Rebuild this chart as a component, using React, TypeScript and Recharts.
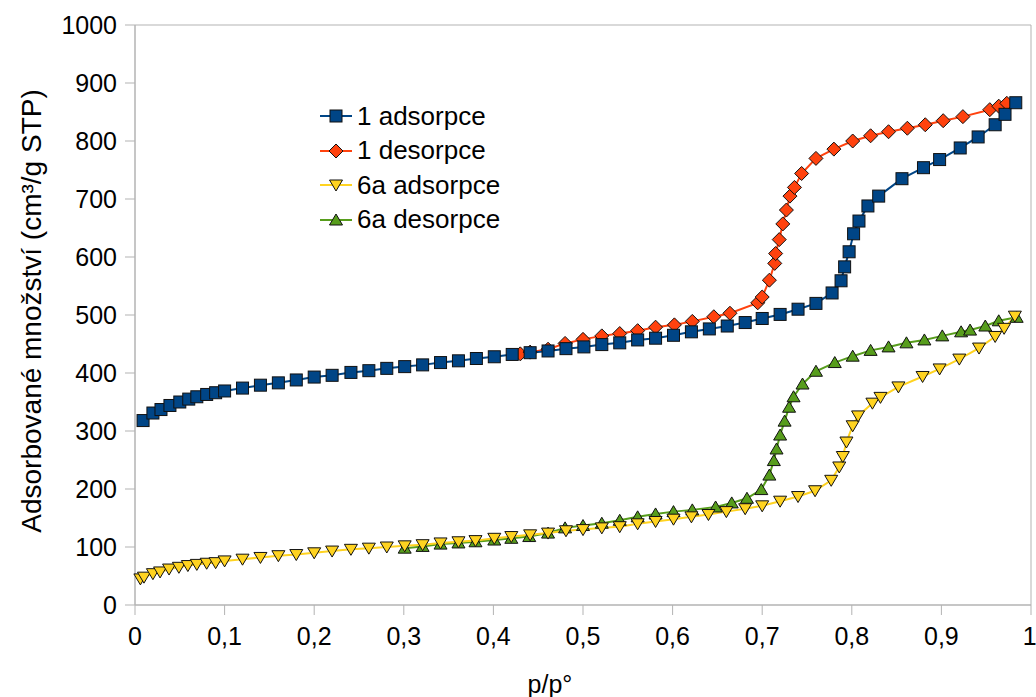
import React from "react";
import { LineChart, Line, XAxis, YAxis, ReferenceArea, Legend } from "recharts";

// Isotherm readings (p/p° and adsorbed amount, cm³/g STP)
const ads1X = [0.009, 0.02, 0.029, 0.039, 0.05, 0.06, 0.069, 0.08, 0.09, 0.1, 0.12, 0.14, 0.16, 0.18, 0.2, 0.22, 0.241, 0.261, 0.281, 0.301, 0.321, 0.341, 0.361, 0.381, 0.401, 0.421, 0.441, 0.461, 0.481, 0.501, 0.521, 0.541, 0.561, 0.581, 0.601, 0.621, 0.641, 0.661, 0.681, 0.7, 0.72, 0.74, 0.76, 0.778, 0.788, 0.792, 0.797, 0.802, 0.808, 0.818, 0.83, 0.856, 0.88, 0.898, 0.921, 0.941, 0.96, 0.971, 0.983];
const ads1Y = [318, 331, 337, 344, 350, 355, 359, 363, 366, 369, 374, 379, 383, 388, 393, 396, 401, 404, 408, 411, 414, 418, 421, 425, 428, 432, 435, 438, 442, 445, 449, 452, 457, 460, 465, 471, 476, 481, 487, 494, 501, 510, 520, 538, 559, 583, 609, 640, 662, 688, 705, 735, 754, 768, 788, 807, 828, 846, 866];

const des1X = [0.43, 0.441, 0.461, 0.48, 0.5, 0.521, 0.541, 0.561, 0.581, 0.602, 0.622, 0.646, 0.664, 0.695, 0.7, 0.708, 0.714, 0.715, 0.719, 0.723, 0.727, 0.731, 0.736, 0.744, 0.76, 0.78, 0.801, 0.821, 0.841, 0.862, 0.882, 0.902, 0.924, 0.954, 0.964, 0.973];
const des1Y = [433, 436, 441, 451, 458, 464, 468, 473, 479, 483, 489, 497, 503, 521, 531, 560, 589, 606, 630, 657, 681, 705, 720, 744, 770, 786, 800, 809, 816, 822, 828, 835, 842, 854, 860, 865];

const ads6X = [0.006, 0.01, 0.02, 0.028, 0.038, 0.049, 0.059, 0.069, 0.08, 0.09, 0.1, 0.12, 0.14, 0.16, 0.18, 0.2, 0.22, 0.241, 0.261, 0.281, 0.301, 0.321, 0.341, 0.361, 0.38, 0.401, 0.42, 0.441, 0.461, 0.481, 0.5, 0.521, 0.541, 0.561, 0.581, 0.601, 0.621, 0.64, 0.66, 0.681, 0.7, 0.72, 0.74, 0.759, 0.777, 0.786, 0.79, 0.794, 0.801, 0.807, 0.823, 0.832, 0.852, 0.879, 0.898, 0.92, 0.942, 0.96, 0.97, 0.982];
const ads6Y = [45, 48, 54, 57, 62, 65, 68, 70, 72, 73, 76, 79, 82, 85, 87, 90, 93, 96, 98, 100, 102, 104, 107, 109, 111, 115, 118, 121, 124, 128, 130, 133, 135, 140, 144, 148, 152, 156, 161, 166, 171, 179, 187, 197, 215, 238, 256, 281, 309, 326, 348, 358, 376, 394, 407, 424, 443, 463, 477, 498];

const des6X = [0.301, 0.321, 0.341, 0.361, 0.38, 0.401, 0.42, 0.44, 0.461, 0.48, 0.5, 0.521, 0.541, 0.561, 0.581, 0.601, 0.622, 0.648, 0.666, 0.683, 0.699, 0.708, 0.713, 0.716, 0.72, 0.725, 0.73, 0.735, 0.745, 0.76, 0.781, 0.801, 0.821, 0.841, 0.861, 0.881, 0.901, 0.922, 0.932, 0.949, 0.964, 0.984];
const des6Y = [98, 101, 105, 107, 109, 112, 115, 118, 124, 133, 137, 141, 146, 152, 157, 161, 164, 169, 176, 184, 199, 224, 249, 269, 293, 317, 341, 359, 381, 403, 418, 429, 439, 445, 452, 457, 464, 471, 474, 481, 490, 496];

const xTicks = [0, 0.1, 0.2, 0.3, 0.4, 0.5, 0.6, 0.7, 0.8, 0.9, 1];
const yTicks = [0, 100, 200, 300, 400, 500, 600, 700, 800, 900, 1000];

const FONT = "'Liberation Sans', Arial, sans-serif";
const AXIS = "#b3b3b3";

type Kind = "square" | "diamond" | "down" | "up";

const SERIES: { name: string; kind: Kind; color: string; xs: number[]; ys: number[] }[] = [
  { name: "1 adsorpce", kind: "square", color: "#004586", xs: ads1X, ys: ads1Y },
  { name: "1 desorpce", kind: "diamond", color: "#ff420e", xs: des1X, ys: des1Y },
  { name: "6a adsorpce", kind: "down", color: "#ffd320", xs: ads6X, ys: ads6Y },
  { name: "6a desorpce", kind: "up", color: "#579d1c", xs: des6X, ys: des6Y },
];

// drawing order: desorption under adsorption
const DRAW_ORDER = [1, 0, 3, 2];

const toPoints = (xs: number[], ys: number[]) => xs.map((x, i) => ({ x, y: ys[i] }));

function Marker({ kind, cx, cy, fill }: { kind: Kind; cx: number; cy: number; fill: string }) {
  const st = { fill, stroke: "#111", strokeWidth: 1 };
  if (kind === "square") return <rect x={cx - 6} y={cy - 6} width={12} height={12} {...st} />;
  if (kind === "diamond")
    return <polygon points={`${cx},${cy - 7} ${cx + 7},${cy} ${cx},${cy + 7} ${cx - 7},${cy}`} {...st} />;
  if (kind === "down")
    return <polygon points={`${cx - 6.5},${cy - 5} ${cx + 6.5},${cy - 5} ${cx},${cy + 6}`} {...st} />;
  return <polygon points={`${cx - 6.5},${cy + 5} ${cx + 6.5},${cy + 5} ${cx},${cy - 6}`} {...st} />;
}

function LegendBox() {
  return (
    <div style={{ fontFamily: FONT, fontSize: 26, color: "#000" }}>
      {SERIES.map((s) => (
        <div key={s.name} style={{ display: "flex", alignItems: "center", height: 34.5 }}>
          <svg width={32} height={20} style={{ marginRight: 5 }}>
            <line x1={0} y1={10} x2={32} y2={10} stroke={s.color} strokeWidth={2} />
            <Marker kind={s.kind} cx={16} cy={10} fill={s.color} />
          </svg>
          <span>{s.name}</span>
        </div>
      ))}
    </div>
  );
}

export default function App() {
  const tick = { fontFamily: FONT, fontSize: 25, fill: "#000" };
  return (
    <div style={{ position: "absolute", left: 0, top: 0 }}>
      <LineChart width={1036} height={697} margin={{ top: 25, right: 5, bottom: 0, left: 0 }}>
        <XAxis
          type="number"
          dataKey="x"
          domain={[0, 1]}
          ticks={xTicks}
          tickFormatter={(v) => String(v).replace(".", ",")}
          tick={tick}
          stroke={AXIS}
          tickSize={10}
          tickMargin={12}
          height={92}
          allowDuplicatedCategory={false}
          label={{ value: "p/p°", position: "insideBottom", offset: 4, dx: -33, style: { fontFamily: FONT, fontSize: 25, fill: "#000" } }}
        />
        <YAxis
          type="number"
          domain={[0, 1000]}
          ticks={yTicks}
          tick={tick}
          stroke={AXIS}
          tickSize={10}
          tickMargin={8}
          width={135}
          label={{
            value: "Adsorbované množství (cm³/g STP)",
            angle: -90,
            position: "insideLeft",
            offset: 31,
            dy: -4,
            style: { fontFamily: FONT, fontSize: 28, fill: "#000", textAnchor: "middle" },
          }}
        />
        <ReferenceArea x1={0} x2={1} y1={0} y2={1000} fill="none" stroke={AXIS} strokeWidth={1} />
        {DRAW_ORDER.map((i) => {
          const s = SERIES[i];
          return (
            <Line
              key={s.name}
              name={s.name}
              data={toPoints(s.xs, s.ys)}
              dataKey="y"
              type="linear"
              stroke={s.color}
              strokeWidth={2}
              isAnimationActive={false}
              dot={(p: any) => <Marker key={p.index} kind={s.kind} cx={p.cx} cy={p.cy} fill={s.color} />}
            />
          );
        })}
        <Legend
          layout="vertical"
          align="center"
          verticalAlign="middle"
          content={() => <LegendBox />}
          wrapperStyle={{ left: 320, top: 99, width: 260, height: "auto" }}
        />
      </LineChart>
    </div>
  );
}
